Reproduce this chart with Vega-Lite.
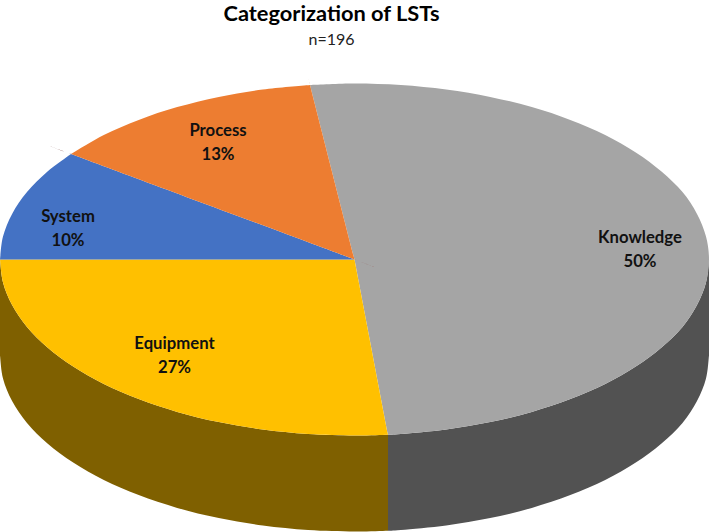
{
"$schema":"https://vega.github.io/schema/vega-lite/v6.json",
"width":709,"height":470,
"autosize":"none",
"padding":{"top":62,"left":0,"right":0,"bottom":0},
"background":"white",
"view":{"stroke":null},
"config":{"view":{"stroke":null}},
"title":{"text":"Categorization of LSTs","subtitle":"n=196","anchor":"middle","dx":-23,"font":"Lato","fontSize":21.8,"fontWeight":"bold","color":"#000000","subtitleFont":"Lato","subtitleFontSize":16,"subtitleColor":"#222222","subtitlePadding":6,"offset":14},
"datasets":{
"outline":[
{"part":"Knowledge wall","i":1,"x":709,"y":259.5},{"part":"Knowledge wall","i":1.1,"x":709,"y":259.5},{"part":"Knowledge wall","i":1.2,"x":709,"y":259.5},{"part":"Knowledge wall","i":2,"x":706,"y":282.5},{"part":"Knowledge wall","i":3,"x":697,"y":305.1},{"part":"Knowledge wall","i":4,"x":682.5,"y":326.9},{"part":"Knowledge wall","i":5,"x":661.5,"y":347.5},{"part":"Knowledge wall","i":6,"x":635.8,"y":366.6},{"part":"Knowledge wall","i":7,"x":605.2,"y":384},{"part":"Knowledge wall","i":8,"x":570.3,"y":399.1},{"part":"Knowledge wall","i":9,"x":531.8,"y":411.9},{"part":"Knowledge wall","i":10,"x":490.2,"y":422.1},{"part":"Knowledge wall","i":11,"x":446.2,"y":429.5},{"part":"Knowledge wall","i":12,"x":400.8,"y":434},{"part":"Knowledge wall","i":13,"x":388,"y":434.7},{"part":"Knowledge wall","i":13.1,"x":388,"y":434.7},{"part":"Knowledge wall","i":13.2,"x":388,"y":434.7},{"part":"Knowledge wall","i":14,"x":388,"y":530.7},{"part":"Knowledge wall","i":14.1,"x":388,"y":530.7},{"part":"Knowledge wall","i":14.2,"x":388,"y":530.7},{"part":"Knowledge wall","i":15,"x":400.8,"y":530},{"part":"Knowledge wall","i":16,"x":446.2,"y":525.5},{"part":"Knowledge wall","i":17,"x":490.2,"y":518.1},{"part":"Knowledge wall","i":18,"x":531.8,"y":507.9},{"part":"Knowledge wall","i":19,"x":570.3,"y":495.1},{"part":"Knowledge wall","i":20,"x":605.2,"y":480},{"part":"Knowledge wall","i":21,"x":635.8,"y":462.6},{"part":"Knowledge wall","i":22,"x":661.5,"y":443.5},{"part":"Knowledge wall","i":23,"x":682.5,"y":422.9},{"part":"Knowledge wall","i":24,"x":697,"y":401.1},{"part":"Knowledge wall","i":25,"x":706,"y":378.5},{"part":"Knowledge wall","i":26,"x":709,"y":355.5},{"part":"Knowledge wall","i":26.1,"x":709,"y":355.5},{"part":"Knowledge wall","i":26.2,"x":709,"y":355.5},{"part":"Knowledge wall","i":27,"x":709,"y":259.5},{"part":"Knowledge wall","i":27.1,"x":709,"y":259.5},
{"part":"Equipment wall","i":1,"x":388,"y":434.7},{"part":"Equipment wall","i":1.1,"x":388,"y":434.7},{"part":"Equipment wall","i":1.2,"x":388,"y":434.7},{"part":"Equipment wall","i":2,"x":354.5,"y":435.5},{"part":"Equipment wall","i":3,"x":308.2,"y":434},{"part":"Equipment wall","i":4,"x":262.8,"y":429.5},{"part":"Equipment wall","i":5,"x":218.8,"y":422.1},{"part":"Equipment wall","i":6,"x":177.2,"y":411.9},{"part":"Equipment wall","i":7,"x":138.7,"y":399.1},{"part":"Equipment wall","i":8,"x":103.8,"y":384},{"part":"Equipment wall","i":9,"x":73.2,"y":366.6},{"part":"Equipment wall","i":10,"x":47.5,"y":347.5},{"part":"Equipment wall","i":11,"x":27,"y":326.9},{"part":"Equipment wall","i":12,"x":12.1,"y":305.1},{"part":"Equipment wall","i":13,"x":3,"y":282.5},{"part":"Equipment wall","i":14,"x":0,"y":259.5},{"part":"Equipment wall","i":14.1,"x":0,"y":259.5},{"part":"Equipment wall","i":14.2,"x":0,"y":259.5},{"part":"Equipment wall","i":15,"x":0,"y":355.5},{"part":"Equipment wall","i":15.1,"x":0,"y":355.5},{"part":"Equipment wall","i":15.2,"x":0,"y":355.5},{"part":"Equipment wall","i":16,"x":3,"y":378.5},{"part":"Equipment wall","i":17,"x":12.1,"y":401.1},{"part":"Equipment wall","i":18,"x":27,"y":422.9},{"part":"Equipment wall","i":19,"x":47.5,"y":443.5},{"part":"Equipment wall","i":20,"x":73.2,"y":462.6},{"part":"Equipment wall","i":21,"x":103.8,"y":480},{"part":"Equipment wall","i":22,"x":138.7,"y":495.1},{"part":"Equipment wall","i":23,"x":177.2,"y":507.9},{"part":"Equipment wall","i":24,"x":218.8,"y":518.1},{"part":"Equipment wall","i":25,"x":262.8,"y":525.5},{"part":"Equipment wall","i":26,"x":308.2,"y":530},{"part":"Equipment wall","i":27,"x":354.5,"y":531.5},{"part":"Equipment wall","i":28,"x":388,"y":530.7},{"part":"Equipment wall","i":28.1,"x":388,"y":530.7},{"part":"Equipment wall","i":28.2,"x":388,"y":530.7},{"part":"Equipment wall","i":29,"x":388,"y":434.7},{"part":"Equipment wall","i":29.1,"x":388,"y":434.7},
{"part":"Knowledge","i":1,"x":354.5,"y":259.5},{"part":"Knowledge","i":1.1,"x":354.5,"y":259.5},{"part":"Knowledge","i":1.2,"x":354.5,"y":259.5},{"part":"Knowledge","i":2,"x":310,"y":85},{"part":"Knowledge","i":2.1,"x":310,"y":85},{"part":"Knowledge","i":2.2,"x":310,"y":85},{"part":"Knowledge","i":3,"x":354.5,"y":83.5},{"part":"Knowledge","i":4,"x":400.8,"y":85},{"part":"Knowledge","i":5,"x":446.2,"y":89.5},{"part":"Knowledge","i":6,"x":490.2,"y":96.9},{"part":"Knowledge","i":7,"x":531.8,"y":107.1},{"part":"Knowledge","i":8,"x":570.3,"y":119.9},{"part":"Knowledge","i":9,"x":605.2,"y":135},{"part":"Knowledge","i":10,"x":635.8,"y":152.4},{"part":"Knowledge","i":11,"x":661.5,"y":171.5},{"part":"Knowledge","i":12,"x":682.5,"y":192.1},{"part":"Knowledge","i":13,"x":697,"y":213.9},{"part":"Knowledge","i":14,"x":706,"y":236.5},{"part":"Knowledge","i":15,"x":709,"y":259.5},{"part":"Knowledge","i":16,"x":706,"y":282.5},{"part":"Knowledge","i":17,"x":697,"y":305.1},{"part":"Knowledge","i":18,"x":682.5,"y":326.9},{"part":"Knowledge","i":19,"x":661.5,"y":347.5},{"part":"Knowledge","i":20,"x":635.8,"y":366.6},{"part":"Knowledge","i":21,"x":605.2,"y":384},{"part":"Knowledge","i":22,"x":570.3,"y":399.1},{"part":"Knowledge","i":23,"x":531.8,"y":411.9},{"part":"Knowledge","i":24,"x":490.2,"y":422.1},{"part":"Knowledge","i":25,"x":446.2,"y":429.5},{"part":"Knowledge","i":26,"x":400.8,"y":434},{"part":"Knowledge","i":27,"x":388,"y":434.7},{"part":"Knowledge","i":27.1,"x":388,"y":434.7},{"part":"Knowledge","i":27.2,"x":388,"y":434.7},{"part":"Knowledge","i":28,"x":354.5,"y":259.5},{"part":"Knowledge","i":28.1,"x":354.5,"y":259.5},
{"part":"Equipment","i":1,"x":354.5,"y":259.5},{"part":"Equipment","i":1.1,"x":354.5,"y":259.5},{"part":"Equipment","i":1.2,"x":354.5,"y":259.5},{"part":"Equipment","i":2,"x":388,"y":434.7},{"part":"Equipment","i":2.1,"x":388,"y":434.7},{"part":"Equipment","i":2.2,"x":388,"y":434.7},{"part":"Equipment","i":3,"x":354.5,"y":435.5},{"part":"Equipment","i":4,"x":308.2,"y":434},{"part":"Equipment","i":5,"x":262.8,"y":429.5},{"part":"Equipment","i":6,"x":218.8,"y":422.1},{"part":"Equipment","i":7,"x":177.2,"y":411.9},{"part":"Equipment","i":8,"x":138.7,"y":399.1},{"part":"Equipment","i":9,"x":103.8,"y":384},{"part":"Equipment","i":10,"x":73.2,"y":366.6},{"part":"Equipment","i":11,"x":47.5,"y":347.5},{"part":"Equipment","i":12,"x":27,"y":326.9},{"part":"Equipment","i":13,"x":12.1,"y":305.1},{"part":"Equipment","i":14,"x":3,"y":282.5},{"part":"Equipment","i":15,"x":0,"y":259.5},{"part":"Equipment","i":15.1,"x":0,"y":259.5},{"part":"Equipment","i":15.2,"x":0,"y":259.5},{"part":"Equipment","i":16,"x":354.5,"y":259.5},{"part":"Equipment","i":16.1,"x":354.5,"y":259.5},
{"part":"System","i":1,"x":354.5,"y":259.5},{"part":"System","i":1.1,"x":354.5,"y":259.5},{"part":"System","i":1.2,"x":354.5,"y":259.5},{"part":"System","i":2,"x":0,"y":259.5},{"part":"System","i":2.1,"x":0,"y":259.5},{"part":"System","i":2.2,"x":0,"y":259.5},{"part":"System","i":3,"x":3,"y":236.5},{"part":"System","i":4,"x":12.1,"y":213.9},{"part":"System","i":5,"x":27,"y":192.1},{"part":"System","i":6,"x":47.5,"y":171.5},{"part":"System","i":7,"x":71,"y":154},{"part":"System","i":7.1,"x":71,"y":154},{"part":"System","i":7.2,"x":71,"y":154},{"part":"System","i":8,"x":354.5,"y":259.5},{"part":"System","i":8.1,"x":354.5,"y":259.5},
{"part":"Process","i":1,"x":354.5,"y":259.5},{"part":"Process","i":1.1,"x":354.5,"y":259.5},{"part":"Process","i":1.2,"x":354.5,"y":259.5},{"part":"Process","i":2,"x":71,"y":154},{"part":"Process","i":2.1,"x":71,"y":154},{"part":"Process","i":2.2,"x":71,"y":154},{"part":"Process","i":3,"x":103.8,"y":135},{"part":"Process","i":4,"x":138.7,"y":119.9},{"part":"Process","i":5,"x":177.2,"y":107.1},{"part":"Process","i":6,"x":218.8,"y":96.9},{"part":"Process","i":7,"x":262.8,"y":89.5},{"part":"Process","i":8,"x":310,"y":85},{"part":"Process","i":8.1,"x":310,"y":85},{"part":"Process","i":8.2,"x":310,"y":85},{"part":"Process","i":9,"x":354.5,"y":259.5},{"part":"Process","i":9.1,"x":354.5,"y":259.5}
],
"labels":[
{"label":"Knowledge\n50%","x":640,"y":238},
{"label":"Equipment\n27%","x":174.5,"y":344},
{"label":"Process\n13%","x":218,"y":131},
{"label":"System\n10%","x":68,"y":217}
]},
"layer":[
{"data":{"name":"outline"},
"mark":{"type":"line","strokeWidth":0,"stroke":null,"clip":true,"interpolate":"cardinal","tension":0},
"encoding":{
"x":{"field":"x","type":"quantitative","scale":{"domain":[0,709]},"axis":null},
"y":{"field":"y","type":"quantitative","scale":{"domain":[532,62]},"axis":null},
"order":{"field":"i","type":"quantitative"},
"fill":{"field":"part","type":"nominal","legend":null,"sort":null,"scale":{"domain":["Knowledge wall","Equipment wall","Knowledge","Equipment","System","Process"],"range":["#525252","#7F6000","#A5A5A5","#FFC000","#4472C4","#ED7D31"]}}
}},
{"data":{"name":"labels"},
"mark":{"type":"text","font":"Lato","fontSize":16.7,"fontWeight":"bold","lineBreak":"\n","lineHeight":24,"align":"center","baseline":"middle","color":"#111111"},
"encoding":{
"x":{"field":"x","type":"quantitative","scale":{"domain":[0,709]},"axis":null},
"y":{"field":"y","type":"quantitative","scale":{"domain":[532,62]},"axis":null},
"text":{"field":"label","type":"nominal"}
}}
]
}
